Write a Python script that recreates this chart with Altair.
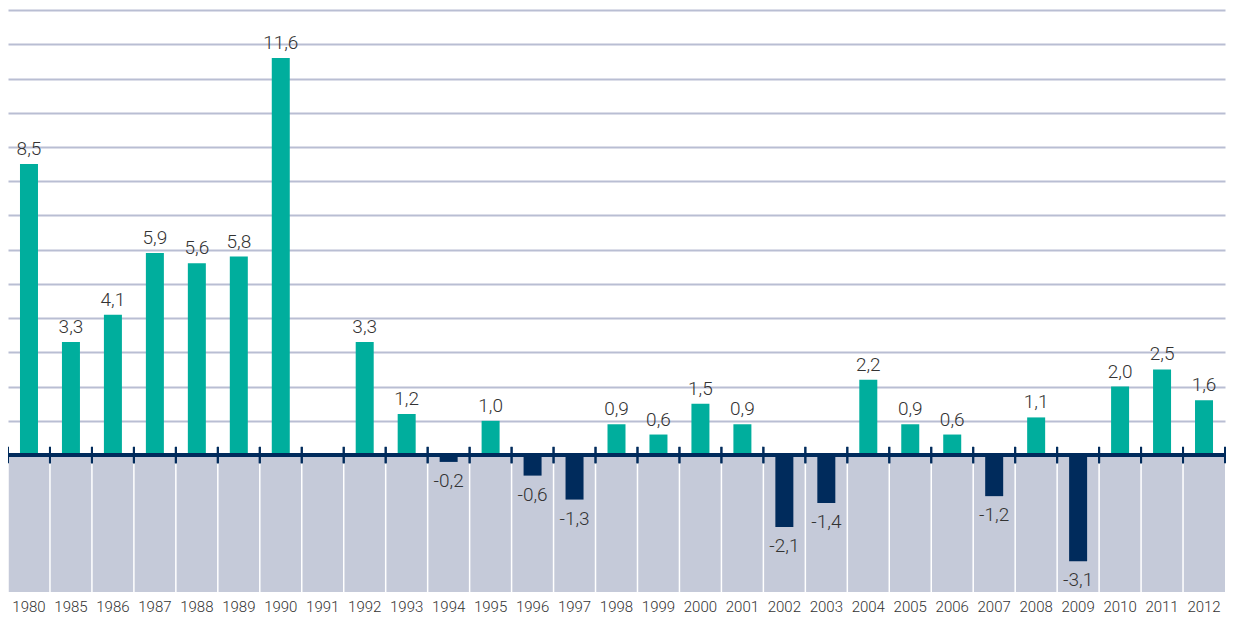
import altair as alt
import pandas as pd

years = ["1980", "1985", "1986", "1987", "1988", "1989", "1990", "1991", "1992", "1993",
         "1994", "1995", "1996", "1997", "1998", "1999", "2000", "2001", "2002", "2003",
         "2004", "2005", "2006", "2007", "2008", "2009", "2010", "2011", "2012"]
values = [8.5, 3.3, 4.1, 5.9, 5.6, 5.8, 11.6, None, 3.3, 1.2,
          -0.2, 1.0, -0.6, -1.3, 0.9, 0.6, 1.5, 0.9, -2.1, -1.4,
          2.2, 0.9, 0.6, -1.2, 1.1, -3.1, 2.0, 2.5, 1.6]
grid_values = list(range(1, 14))
y_min, y_max = -4, 13.06

labels = [None if v is None else f"{v:.1f}".replace(".", ",") for v in values]
df = pd.DataFrame({"year": years, "value": values, "label": labels})

TEAL = "#00ae9d"
NAVY = "#002b5c"
GRAY = "#c5cad9"
GRID = "#b9bed3"
FONT = "Roboto"
TEXT = "#333333"

xscale = alt.Scale(domain=years, paddingInner=0, paddingOuter=0)
yscale = alt.Scale(domain=[y_min, y_max], nice=False, zero=False)

x_axis = alt.Axis(title=None, domain=False, ticks=False, labelAngle=0,
                  labelFont=FONT, labelFontSize=15, labelColor=TEXT,
                  labelFontWeight=300,
                  labelBaseline="alphabetic", labelPadding=19)
y_axis = alt.Axis(title=None, values=grid_values, grid=True, gridColor=GRID,
                  gridWidth=2, labels=False, ticks=False, domain=False)

base = alt.Chart(df)

band = base.mark_rect(color=GRAY).encode(
    x=alt.X("year:N", scale=xscale, axis=x_axis, sort=years),
    y=alt.Y(datum=-4, scale=yscale, axis=y_axis),
    y2=alt.Y2(datum=0),
)

separators = base.mark_rule(color="white", strokeWidth=1.5).encode(
    x=alt.X("year:N", sort=years, bandPosition=0),
    y=alt.Y(datum=-4),
    y2=alt.Y2(datum=0),
)

bars = base.transform_filter("datum.value != null").mark_bar(size=18).encode(
    x=alt.X("year:N", sort=years),
    y=alt.Y("value:Q"),
    y2=alt.Y2(datum=0),
    color=alt.condition("datum.value >= 0", alt.value(TEAL), alt.value(NAVY)),
)

zero = base.mark_rule(color=NAVY, strokeWidth=3).encode(
    y=alt.Y(datum=0),
)

ticks_a = base.mark_rule(color=NAVY, strokeWidth=2).encode(
    x=alt.X("year:N", sort=years, bandPosition=0),
    y=alt.Y(datum=-0.24),
    y2=alt.Y2(datum=0.24),
)
ticks_b = base.mark_rule(color=NAVY, strokeWidth=2).encode(
    x=alt.X("year:N", sort=years, bandPosition=1),
    y=alt.Y(datum=-0.24),
    y2=alt.Y2(datum=0.24),
)

pos_text = base.transform_filter("datum.value != null && datum.value >= 0").mark_text(
    baseline="alphabetic", dy=-9, font=FONT, fontSize=19, fontWeight=300, color=TEXT
).encode(
    x=alt.X("year:N", sort=years),
    y=alt.Y("value:Q"),
    text="label:N",
)

neg_text = base.transform_filter("datum.value != null && datum.value < 0").mark_text(
    baseline="alphabetic", dy=25, font=FONT, fontSize=19, fontWeight=300, color=TEXT
).encode(
    x=alt.X("year:N", sort=years),
    y=alt.Y("value:Q"),
    text="label:N",
)

chart = alt.layer(band, separators, bars, zero, ticks_a, ticks_b, pos_text, neg_text).properties(
    width=1217,
    height=584,
    autosize=alt.AutoSizeParams(type="none"),
    padding={"left": 0, "top": 0, "right": 1, "bottom": 23},
).configure_view(stroke=None).configure_axis(zindex=0)

chart.save("out.html", embed_options={"renderer": "svg", "actions": False})
